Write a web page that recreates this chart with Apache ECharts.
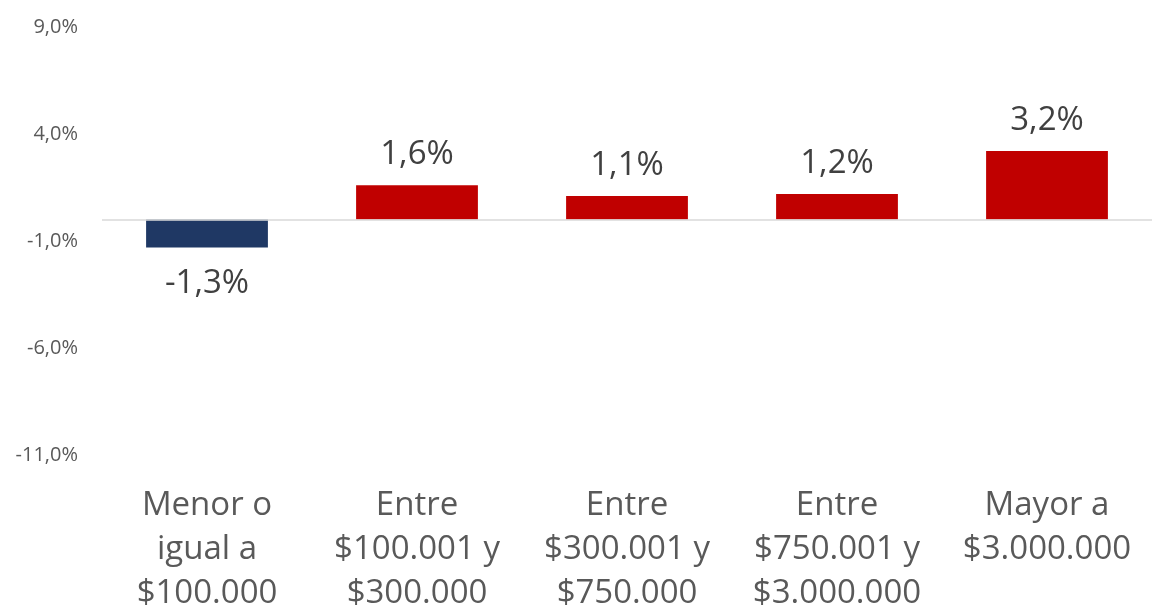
<!DOCTYPE html>
<html>
<head>
<meta charset="utf-8">
<script src="https://cdn.jsdelivr.net/npm/echarts@6/dist/echarts.min.js"></script>
<style>
  html, body { margin: 0; padding: 0; background: #fff; }
  #chart { width: 1153px; height: 613px; }
</style>
</head>
<body>
<div id="chart"></div>
<script>
// categories and values (percent)
const categories = [
  'Menor o\nigual a\n$100.000',
  'Entre\n$100.001 y\n$300.000',
  'Entre\n$300.001 y\n$750.000',
  'Entre\n$750.001 y\n$3.000.000',
  'Mayor a\n$3.000.000'
];
const values = [-1.3, 1.6, 1.1, 1.2, 3.2];
const yTicks = [-11, -6, -1, 4, 9];

const fontFam = '"Open Sans", "Noto Sans", sans-serif';
const fmt = v => v.toFixed(1).replace('.', ',') + '%';

const chart = echarts.init(document.getElementById('chart'));

const options = {
  animation: false,
  grid: { left: 102, right: 1, top: 27, bottom: 158, containLabel: false, outerBoundsMode: 'none' },
  xAxis: {
    type: 'category',
    data: categories,
    axisLine: { show: false },
    axisTick: { show: false },
    axisLabel: {
      interval: 0,
      margin: 29,
      color: '#595959',
      fontSize: 33,
      lineHeight: 44,
      fontFamily: fontFam
    }
  },
  yAxis: {
    type: 'value',
    min: yTicks[0],
    max: yTicks[yTicks.length - 1],
    interval: 5,
    splitLine: { show: false },
    axisLine: { show: false },
    axisTick: { show: false },
    axisLabel: {
      margin: 24,
      color: '#595959',
      fontSize: 20,
      fontFamily: fontFam,
      formatter: v => fmt(v)
    }
  },
  series: [{
    type: 'bar',
    barWidth: '58%',
    data: values.map(v => ({
      value: v,
      itemStyle: { color: v < 0 ? '#1F3864' : '#C00000' },
      label: { position: v < 0 ? 'bottom' : 'top', distance: v < 0 ? 20 : 14 }
    })),
    label: {
      show: true,
      color: '#404040',
      fontSize: 33,
      fontFamily: fontFam,
      formatter: p => fmt(p.value)
    },
    markLine: {
      silent: true,
      symbol: 'none',
      label: { show: false },
      lineStyle: { color: '#d9d9d9', type: 'solid', width: 1.5 },
      data: [{ yAxis: 0 }]
    }
  }]
};

chart.setOption(options);
</script>
</body>
</html>
